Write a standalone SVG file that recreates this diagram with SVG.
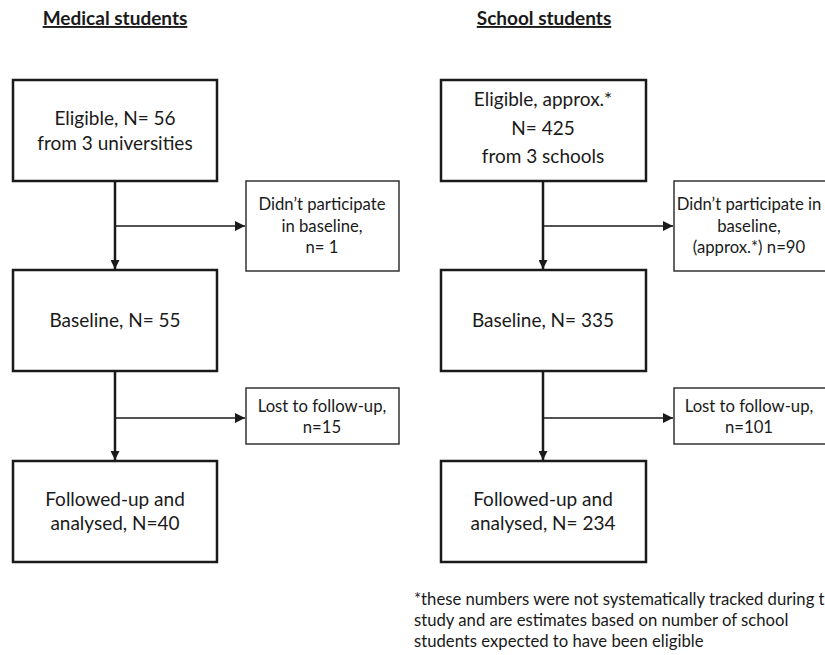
<svg xmlns="http://www.w3.org/2000/svg" width="825" height="655" viewBox="0 0 825 655">
<style>
text{font-family:Lato,"Open Sans","Liberation Sans",sans-serif;fill:#1a1a1a;text-anchor:middle}
.t{font-size:19px;font-weight:bold;text-decoration:underline}
.b{font-size:19px}
.s{font-size:16.7px}
.f{font-size:16.7px;text-anchor:start}
.big{fill:#fff;stroke:#1a1a1a;stroke-width:2.5}
.side{fill:#fff;stroke:#333;stroke-width:1.5}
.v{stroke:#1a1a1a;stroke-width:2.5;fill:none}
.h{stroke:#1a1a1a;stroke-width:1.5;fill:none}
</style>
<defs>
<marker id="ah" viewBox="0 0 10 10" refX="10" refY="5" markerWidth="10" markerHeight="10" markerUnits="userSpaceOnUse" orient="auto">
<path d="M0,0 L10,5 L0,10 Z" fill="#1a1a1a"/>
</marker>
<marker id="av" viewBox="0 0 10 10" refX="10" refY="5" markerWidth="10" markerHeight="9" markerUnits="userSpaceOnUse" orient="auto">
<path d="M0,0 L10,5 L0,10 Z" fill="#1a1a1a"/>
</marker>
</defs>
<rect width="825" height="655" fill="#fff"/>
<text class="t" x="115" y="25">Medical students</text>
<text class="t" x="544" y="25">School students</text>
<g id="connectors">
<path class="v" d="M115,181 V269" marker-end="url(#av)"/>
<path class="h" d="M115,226 H245" marker-end="url(#ah)"/>
<path class="v" d="M115,371 V460" marker-end="url(#av)"/>
<path class="h" d="M115,418 H245" marker-end="url(#ah)"/>
<path class="v" d="M543,181 V269" marker-end="url(#av)"/>
<path class="h" d="M543,226 H673" marker-end="url(#ah)"/>
<path class="v" d="M543,371 V460" marker-end="url(#av)"/>
<path class="h" d="M543,418 H673" marker-end="url(#ah)"/>
</g>
<g id="med-eligible"><rect class="big" x="13" y="80" width="204" height="101"/>
<text class="b" x="115" y="125">Eligible, N= 56</text><text class="b" x="115" y="150">from 3 universities</text></g>
<g id="med-noparticipate"><rect class="side" x="246" y="181" width="153" height="90"/>
<text class="s" x="322" y="210">Didn’t participate</text><text class="s" x="322" y="232">in baseline,</text><text class="s" x="322" y="253">n= 1</text></g>
<g id="med-baseline"><rect class="big" x="13" y="270" width="204" height="101"/>
<text class="b" x="115" y="327">Baseline, N= 55</text></g>
<g id="med-lost"><rect class="side" x="246" y="388" width="153" height="56"/>
<text class="s" x="322" y="412">Lost to follow-up,</text><text class="s" x="322" y="433">n=15</text></g>
<g id="med-followed"><rect class="big" x="13" y="461" width="204" height="101"/>
<text class="b" x="115" y="506">Followed-up and</text><text class="b" x="115" y="530">analysed, N=40</text></g>
<g id="sch-eligible"><rect class="big" x="441" y="80" width="205" height="101"/>
<text class="b" x="543" y="106">Eligible, approx.*</text><text class="b" x="543" y="135">N= 425</text><text class="b" x="543" y="163">from 3 schools</text></g>
<g id="sch-noparticipate"><rect class="side" x="674" y="181" width="155" height="90"/>
<text class="s" x="749" y="210">Didn’t participate in</text><text class="s" x="749" y="232">baseline,</text><text class="s" x="749" y="253">(approx.*) n=90</text></g>
<g id="sch-baseline"><rect class="big" x="441" y="270" width="205" height="101"/>
<text class="b" x="543" y="327">Baseline, N= 335</text></g>
<g id="sch-lost"><rect class="side" x="674" y="388" width="155" height="56"/>
<text class="s" x="749" y="412">Lost to follow-up,</text><text class="s" x="749" y="433">n=101</text></g>
<g id="sch-followed"><rect class="big" x="441" y="461" width="205" height="101"/>
<text class="b" x="543" y="506">Followed-up and</text><text class="b" x="543" y="530">analysed, N= 234</text></g>
<g id="footnote">
<text class="f" x="414" y="605">*these numbers were not systematically tracked during t</text>
<text class="f" x="414" y="626">study and are estimates based on number of school</text>
<text class="f" x="414" y="647">students expected to have been eligible</text>
</g>
</svg>
